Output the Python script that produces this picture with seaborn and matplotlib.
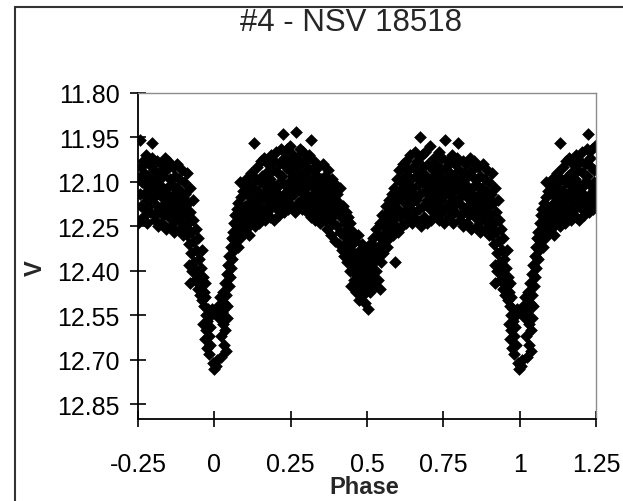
"""
#4 - NSV 18518 : phased V light curve
"""

import pandas as pd
import seaborn as sns
import matplotlib.pyplot as plt
from matplotlib.patches import Rectangle

ingress = [(0.900, 12.10), (0.901, 12.18), (0.903, 12.25), (0.905, 12.14), (0.907, 12.21),
           (0.909, 12.28), (0.911, 12.07), (0.913, 12.17), (0.915, 12.24), (0.917, 12.31),
           (0.918, 12.38), (0.919, 12.12), (0.920, 12.44), (0.921, 12.20), (0.923, 12.27),
           (0.925, 12.34), (0.927, 12.40), (0.929, 12.16), (0.931, 12.23), (0.933, 12.30),
           (0.935, 12.37), (0.937, 12.43), (0.939, 12.26), (0.941, 12.33), (0.943, 12.40),
           (0.945, 12.46), (0.947, 12.29), (0.949, 12.36), (0.951, 12.43), (0.953, 12.48),
           (0.955, 12.39), (0.957, 12.45), (0.959, 12.33), (0.961, 12.50), (0.963, 12.42),
           (0.964, 12.58), (0.965, 12.47), (0.967, 12.52), (0.968, 12.63), (0.969, 12.44),
           (0.971, 12.49), (0.972, 12.60), (0.973, 12.55), (0.975, 12.66), (0.977, 12.57),
           (0.979, 12.53), (0.981, 12.62), (0.983, 12.68), (0.985, 12.59), (0.987, 12.65),
           (0.989, 12.55), (0.992, 12.53), (0.995, 12.71), (0.998, 12.73)]

egress = [(0.002, 12.54), (0.004, 12.72), (0.008, 12.70), (0.012, 12.52), (0.016, 12.56),
          (0.019, 12.49), (0.021, 12.62), (0.023, 12.69), (0.025, 12.54), (0.027, 12.47),
          (0.029, 12.58), (0.031, 12.65), (0.033, 12.51), (0.035, 12.44), (0.036, 12.60),
          (0.038, 12.67), (0.039, 12.48), (0.041, 12.56), (0.042, 12.41), (0.043, 12.52),
          (0.045, 12.38), (0.047, 12.45), (0.049, 12.35), (0.051, 12.42), (0.053, 12.32),
          (0.055, 12.39), (0.057, 12.29), (0.059, 12.36), (0.061, 12.27), (0.063, 12.33),
          (0.065, 12.24), (0.067, 12.30), (0.069, 12.21), (0.071, 12.28), (0.073, 12.19),
          (0.075, 12.25), (0.077, 12.32), (0.079, 12.17), (0.081, 12.23), (0.083, 12.29),
          (0.085, 12.10), (0.087, 12.15), (0.089, 12.21), (0.091, 12.27), (0.093, 12.13),
          (0.095, 12.19), (0.097, 12.24), (0.099, 12.11)]

max1 = [(0.101, 12.18), (0.103, 12.26), (0.105, 12.09), (0.107, 12.14), (0.109, 12.22),
        (0.112, 12.17), (0.114, 12.28), (0.116, 12.11), (0.118, 12.20), (0.119, 12.24),
        (0.121, 12.07), (0.123, 12.15), (0.125, 12.21), (0.127, 12.12), (0.129, 12.18),
        (0.131, 11.97), (0.133, 12.25), (0.135, 12.09), (0.137, 12.16), (0.139, 12.22),
        (0.141, 12.05), (0.143, 12.13), (0.145, 12.19), (0.147, 12.24), (0.149, 12.10),
        (0.151, 12.16), (0.153, 12.03), (0.155, 12.21), (0.157, 12.08), (0.159, 12.14),
        (0.161, 12.19), (0.163, 12.02), (0.165, 12.11), (0.167, 12.23), (0.169, 12.07),
        (0.171, 12.15), (0.173, 12.20), (0.175, 12.04), (0.177, 12.12), (0.179, 12.17),
        (0.181, 12.09), (0.183, 12.22), (0.185, 12.01), (0.187, 12.14), (0.189, 12.18),
        (0.191, 12.06), (0.193, 12.11), (0.195, 12.23), (0.197, 12.03), (0.199, 12.16),
        (0.201, 12.12), (0.203, 12.00), (0.205, 12.19), (0.207, 12.07), (0.209, 12.14),
        (0.211, 12.21), (0.213, 12.04), (0.215, 12.10), (0.217, 12.17), (0.219, 11.99),
        (0.221, 12.08), (0.223, 12.15), (0.225, 11.94), (0.227, 12.20), (0.229, 12.02),
        (0.231, 12.11), (0.233, 12.17), (0.235, 12.05), (0.237, 11.99), (0.239, 12.13),
        (0.241, 12.19), (0.243, 12.06), (0.245, 12.10), (0.247, 11.98), (0.249, 12.15),
        (0.251, 12.03), (0.253, 12.12), (0.255, 12.18), (0.257, 12.08), (0.259, 12.01),
        (0.261, 12.14), (0.263, 12.05), (0.265, 12.20), (0.267, 12.10), (0.269, 11.93),
        (0.271, 12.02), (0.273, 12.17), (0.275, 12.07), (0.277, 12.12), (0.279, 11.99),
        (0.281, 12.09), (0.283, 12.16), (0.285, 12.04), (0.287, 12.19), (0.289, 12.11),
        (0.291, 12.00), (0.293, 12.14), (0.295, 12.07), (0.297, 12.18), (0.299, 12.03),
        (0.301, 12.12), (0.303, 12.20), (0.305, 12.05), (0.307, 12.15), (0.309, 12.09),
        (0.311, 12.01), (0.313, 12.17), (0.315, 12.22), (0.317, 11.96), (0.319, 12.11),
        (0.321, 12.06), (0.323, 12.14), (0.325, 12.19), (0.327, 12.03), (0.329, 12.10),
        (0.331, 12.23), (0.333, 12.16), (0.335, 12.08), (0.337, 12.12), (0.339, 12.20),
        (0.341, 12.05), (0.343, 12.13), (0.345, 12.18), (0.347, 12.24), (0.349, 12.09),
        (0.351, 12.15), (0.353, 12.21), (0.355, 12.04), (0.357, 12.11), (0.359, 12.17),
        (0.361, 12.23), (0.363, 12.08), (0.365, 12.14), (0.367, 12.19), (0.369, 12.26),
        (0.371, 12.12), (0.373, 12.06), (0.375, 12.17), (0.377, 12.22), (0.379, 12.10),
        (0.381, 12.15), (0.383, 12.28), (0.385, 12.09), (0.387, 12.19), (0.389, 12.24),
        (0.391, 12.13), (0.393, 12.21), (0.395, 12.30), (0.397, 12.17), (0.399, 12.11)]

secondary = [(0.401, 12.25), (0.403, 12.14), (0.405, 12.20), (0.407, 12.31), (0.409, 12.17),
             (0.411, 12.27), (0.413, 12.12), (0.415, 12.22), (0.417, 12.33), (0.419, 12.19),
             (0.421, 12.28), (0.423, 12.18), (0.425, 12.35), (0.427, 12.24), (0.429, 12.31),
             (0.431, 12.20), (0.433, 12.37), (0.435, 12.26), (0.437, 12.33), (0.439, 12.22),
             (0.441, 12.29), (0.443, 12.40), (0.445, 12.24), (0.447, 12.35), (0.449, 12.45),
             (0.451, 12.31), (0.453, 12.38), (0.455, 12.27), (0.457, 12.43), (0.459, 12.34),
             (0.461, 12.30), (0.463, 12.41), (0.465, 12.47), (0.467, 12.36), (0.469, 12.28),
             (0.471, 12.44), (0.473, 12.50), (0.475, 12.39), (0.477, 12.33), (0.479, 12.46),
             (0.481, 12.37), (0.483, 12.42), (0.485, 12.31), (0.487, 12.48), (0.489, 12.40),
             (0.491, 12.35), (0.493, 12.45), (0.495, 12.51), (0.497, 12.38), (0.499, 12.43),
             (0.501, 12.33), (0.503, 12.53), (0.505, 12.41), (0.507, 12.36), (0.509, 12.47),
             (0.511, 12.31), (0.513, 12.44), (0.515, 12.39), (0.517, 12.34), (0.519, 12.42),
             (0.521, 12.29), (0.523, 12.37), (0.525, 12.45), (0.527, 12.32), (0.529, 12.26),
             (0.531, 12.40), (0.533, 12.35), (0.535, 12.28), (0.537, 12.43), (0.539, 12.33),
             (0.541, 12.46), (0.543, 12.24), (0.545, 12.31), (0.547, 12.37), (0.549, 12.21),
             (0.551, 12.28), (0.553, 12.34), (0.555, 12.25), (0.557, 12.30), (0.559, 12.22),
             (0.561, 12.27), (0.563, 12.18), (0.565, 12.32), (0.567, 12.24), (0.569, 12.20),
             (0.571, 12.29), (0.573, 12.16), (0.575, 12.22), (0.577, 12.26), (0.579, 12.19),
             (0.581, 12.14), (0.583, 12.23), (0.585, 12.28), (0.587, 12.17), (0.589, 12.12),
             (0.591, 12.37), (0.593, 12.20), (0.595, 12.25), (0.597, 12.15), (0.599, 12.09)]

max2 = [(0.601, 12.19), (0.603, 12.27), (0.605, 12.06), (0.607, 12.13), (0.609, 12.22),
        (0.611, 12.10), (0.613, 12.16), (0.615, 12.25), (0.617, 12.04), (0.619, 12.12),
        (0.621, 12.20), (0.623, 12.08), (0.625, 12.15), (0.627, 12.24), (0.629, 12.03),
        (0.631, 12.11), (0.633, 12.18), (0.635, 12.06), (0.637, 12.22), (0.639, 12.14),
        (0.641, 12.01), (0.643, 12.09), (0.645, 12.17), (0.647, 12.24), (0.649, 12.12),
        (0.651, 12.05), (0.653, 12.20), (0.655, 12.14), (0.657, 12.00), (0.659, 12.08),
        (0.661, 12.16), (0.663, 12.23), (0.665, 12.03), (0.667, 12.11), (0.669, 12.19),
        (0.671, 12.07), (0.673, 11.95), (0.675, 12.14), (0.677, 12.25), (0.679, 12.01),
        (0.681, 12.10), (0.683, 12.18), (0.685, 12.05), (0.687, 12.22), (0.689, 12.13),
        (0.691, 12.00), (0.693, 12.08), (0.695, 12.16), (0.697, 12.24), (0.699, 12.11),
        (0.701, 12.04), (0.703, 12.14), (0.705, 11.98), (0.707, 12.19), (0.709, 12.09),
        (0.711, 12.23), (0.713, 12.12), (0.715, 12.06), (0.717, 12.17), (0.719, 12.02),
        (0.721, 12.10), (0.723, 12.21), (0.725, 12.15), (0.727, 12.04), (0.729, 12.18),
        (0.731, 12.08), (0.733, 12.13), (0.735, 12.00), (0.737, 12.23), (0.739, 12.11),
        (0.741, 12.06), (0.743, 12.16), (0.745, 12.20), (0.747, 12.02), (0.749, 12.12),
        (0.751, 12.24), (0.753, 12.09), (0.755, 11.96), (0.757, 12.14), (0.759, 12.05),
        (0.761, 12.18), (0.763, 12.10), (0.765, 12.03), (0.767, 12.22), (0.769, 12.14),
        (0.771, 12.07), (0.773, 12.19), (0.775, 12.11), (0.777, 12.01), (0.779, 12.16),
        (0.781, 12.24), (0.783, 12.08), (0.785, 12.13), (0.787, 12.04), (0.789, 12.20),
        (0.791, 12.10), (0.793, 12.17), (0.795, 12.02), (0.797, 11.97), (0.799, 12.12),
        (0.801, 12.06), (0.803, 12.15), (0.805, 12.23), (0.807, 12.21), (0.809, 12.09),
        (0.811, 12.18), (0.813, 12.03), (0.815, 12.25), (0.817, 12.13), (0.819, 12.07),
        (0.821, 12.19), (0.823, 12.11), (0.825, 12.04), (0.827, 12.24), (0.829, 12.15),
        (0.831, 12.08), (0.833, 12.21), (0.835, 12.13), (0.837, 12.02), (0.839, 12.17),
        (0.841, 12.26), (0.843, 12.06), (0.845, 12.12), (0.847, 12.19), (0.849, 12.03),
        (0.851, 12.15), (0.853, 12.22), (0.855, 12.09), (0.857, 12.17), (0.859, 12.25),
        (0.861, 12.11), (0.863, 12.05), (0.865, 12.20), (0.867, 12.14), (0.869, 12.27),
        (0.871, 12.08), (0.873, 12.18), (0.875, 12.23), (0.877, 12.12), (0.879, 12.04),
        (0.881, 12.16), (0.883, 12.21), (0.885, 12.09), (0.887, 12.26), (0.889, 12.13),
        (0.891, 12.19), (0.893, 12.06), (0.895, 12.24), (0.897, 12.15), (0.899, 12.28)]

x_ticks = [-0.25, 0, 0.25, 0.5, 0.75, 1, 1.25]
x_tick_labels = ['-0.25', '0', '0.25', '0.5', '0.75', '1', '1.25']
y_ticks = [11.80, 11.95, 12.10, 12.25, 12.40, 12.55, 12.70, 12.85]
y_tick_labels = ['11.80', '11.95', '12.10', '12.25', '12.40', '12.55', '12.70', '12.85']

# Build the folded table and repeat the ends so it runs from -0.25 to 1.25

df = pd.DataFrame(ingress + egress + max1 + secondary + max2, columns=['Phase', 'V'])
df = pd.concat([df,
                df[df['Phase'] >= 0.75].assign(Phase=lambda d: d['Phase'] - 1),
                df[df['Phase'] < 0.25].assign(Phase=lambda d: d['Phase'] + 1)],
               ignore_index=True)

# Plot

sns.set_style('white')
plt.rcParams['font.family'] = ['Liberation Sans', 'DejaVu Sans']

fig = plt.figure(figsize=(6.23, 5.02), dpi=100)
ax = fig.add_axes([138 / 623, 1 - 420 / 502, 458 / 623, 326 / 502])

sns.scatterplot(x='Phase', y='V', data=df, ax=ax, marker='D', s=42,
                color='black', edgecolor='black', linewidth=0, legend=False)

ax.set_xlim(-0.25, 1.25)
ax.set_ylim(12.9, 11.8)
ax.set_xticks(x_ticks)
ax.set_xticklabels(x_tick_labels)
ax.set_yticks(y_ticks)
ax.set_yticklabels(y_tick_labels)
ax.tick_params(bottom=True, left=True, direction='inout', length=12, width=1.2,
               labelsize=18, colors='black')
ax.tick_params(axis='x', pad=18)
ax.tick_params(axis='y', pad=7)

for side in ['left', 'bottom']:
    ax.spines[side].set_color('black')
    ax.spines[side].set_linewidth(1.3)
for side in ['top', 'right']:
    ax.spines[side].set_color('#8c8c8c')
    ax.spines[side].set_linewidth(1)

ax.set_xlabel('Phase', fontsize=17, fontweight='bold', va='center')
ax.xaxis.set_label_coords((364 - 138) / 458, (420 - 488) / 326)
ax.set_ylabel('V', fontsize=17, fontweight='bold', va='center', ha='center')
ax.yaxis.set_label_coords((35 - 138) / 458, (420 - 268) / 326)

fig.text(351 / 623, 1 - 23 / 502, '#4 - NSV 18518', fontsize=22.5,
         ha='center', va='center')

# Chart area border (only the left and top edges show in the crop)
fig.patches.append(Rectangle((15 / 623, -0.2), 1.2, 1.2 - 9 / 502 + 0.002,
                             transform=fig.transFigure, fill=False,
                             edgecolor='#333333', linewidth=1.5))

plt.savefig('out.png', dpi=100)
